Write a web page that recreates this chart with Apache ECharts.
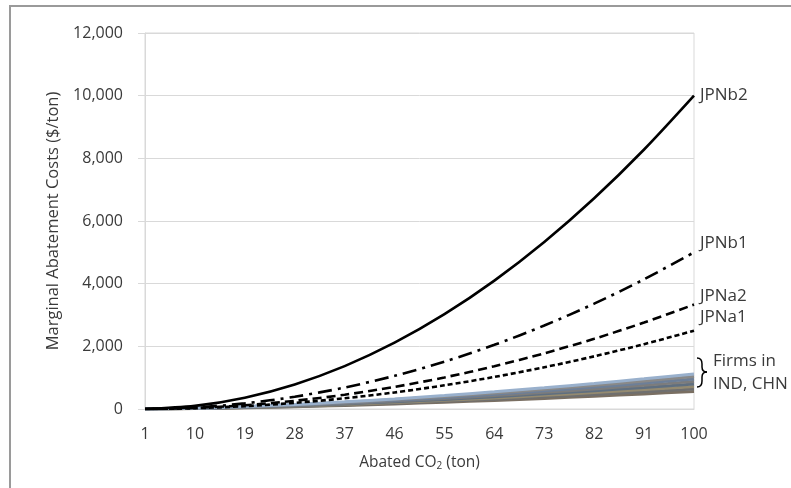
<!DOCTYPE html>
<html>
<head>
<meta charset="utf-8">
<title>Marginal Abatement Costs</title>
<script src="https://cdn.jsdelivr.net/npm/echarts@6/dist/echarts.min.js"></script>
<style>
  html, body { margin: 0; padding: 0; background: #fff; }
  #chart { width: 791px; height: 488px; }
</style>
</head>
<body>
<div id="chart"></div>
<script>
var tons = [1, 10, 19, 28, 37, 46, 55, 64, 73, 82, 91, 100];

// Japanese firms
var jpnB2 = [0, 100, 361, 784, 1369, 2116, 3025, 4096, 5329, 6724, 8281, 10000];
var jpnB1 = [0, 50, 180, 392, 685, 1058, 1512, 2048, 2664, 3362, 4140, 5000];
var jpnA2 = [0, 33, 120, 261, 456, 705, 1008, 1365, 1776, 2241, 2760, 3333];
var jpnA1 = [0, 25, 90, 196, 342, 529, 756, 1024, 1332, 1681, 2070, 2500];

// firms in IND, CHN (grey band)
var firms = [
  [0, 14, 39, 73, 114, 162, 215, 274, 338, 408, 482, 560],
  [0, 16, 45, 83, 130, 185, 246, 313, 387, 466, 550, 640],
  [0, 18, 51, 94, 147, 208, 277, 353, 435, 524, 619, 720],
  [0, 20, 56, 104, 163, 231, 307, 392, 484, 582, 688, 800],
  [0, 22, 62, 115, 179, 254, 338, 431, 532, 641, 757, 880],
  [0, 24, 67, 125, 196, 277, 369, 470, 580, 699, 826, 960],
  [0, 26, 73, 136, 212, 300, 400, 509, 629, 757, 894, 1040],
  [0, 28, 79, 146, 228, 323, 430, 548, 677, 815, 963, 1120]
];
var firmColors = ['#7a6f62', '#6f6f6f', '#948a70', '#5f6f80', '#7c7c7c', '#6d7f98', '#898989', '#99b0cc'];

var font = 'Open Sans';
var textColor = '#3a3a3a';

function pairs(vals) {
  return vals.map(function (v, i) { return [tons[i], v]; });
}

var chart = echarts.init(document.getElementById('chart'));

var series = [];
firms.forEach(function (vals, i) {
  series.push({
    name: 'Firm ' + (i + 1),
    type: 'line',
    data: pairs(vals),
    smooth: 0.3,
    symbol: 'none',
    lineStyle: { color: firmColors[i], width: 3 },
    silent: true
  });
});

function jpn(name, vals, dash, off) {
  return {
    name: name,
    type: 'line',
    data: pairs(vals),
    smooth: 0.3,
    symbol: 'none',
    z: 5,
    lineStyle: { color: '#000', width: 2.6, type: dash },
    endLabel: {
      show: true,
      formatter: '{a}',
      fontFamily: font,
      fontSize: 17,
      color: textColor,
      distance: 6,
      offset: off
    }
  };
}
series.push(jpn('JPNb2', jpnB2, 'solid', [0, -1]));
series.push(jpn('JPNb1', jpnB1, [14, 6, 3, 6], [0, -9]));
series.push(jpn('JPNa2', jpnA2, [9, 5], [0, -8]));
series.push(jpn('JPNa1', jpnA1, [5, 3], [0, -14]));

// curly brace next to the firms band
var braceStyle = { stroke: '#000', lineWidth: 1.5, fill: null };
var brace = [
  { type: 'bezierCurve', shape: { x1: 697, y1: 358, x2: 702, y2: 364, cpx1: 702, cpy1: 358 } },
  { type: 'line', shape: { x1: 702, y1: 364, x2: 702, y2: 367 } },
  { type: 'bezierCurve', shape: { x1: 702, y1: 367, x2: 707, y2: 372, cpx1: 702, cpy1: 372 } },
  { type: 'bezierCurve', shape: { x1: 707, y1: 372, x2: 702, y2: 377, cpx1: 702, cpy1: 372 } },
  { type: 'line', shape: { x1: 702, y1: 377, x2: 702, y2: 381 } },
  { type: 'bezierCurve', shape: { x1: 702, y1: 381, x2: 697, y2: 387, cpx1: 702, cpy1: 387 } }
].map(function (el) { el.style = braceStyle; el.silent = true; return el; });

var option = {
  backgroundColor: '#fff',
  animation: false,
  grid: {
    left: 145, right: 97, top: 33, bottom: 79,
    show: true, borderColor: '#d9d9d9', borderWidth: 1
  },
  xAxis: {
    type: 'value',
    min: 1,
    max: 100,
    name: '{t|Abated CO}{s|2}{t| (ton)}',
    nameLocation: 'middle',
    nameGap: 45,
    nameTextStyle: {
      rich: {
        t: { fontFamily: font, fontSize: 15.5, color: textColor },
        s: { fontFamily: font, fontSize: 10, color: textColor, verticalAlign: 'bottom', padding: [7, 0, 0, 0] }
      }
    },
    axisLine: { show: true, lineStyle: { color: '#d9d9d9' } },
    axisTick: { show: false },
    splitLine: { show: false },
    axisLabel: {
      customValues: tons,
      margin: 17,
      fontFamily: font,
      fontSize: 16,
      color: textColor
    }
  },
  yAxis: {
    type: 'value',
    min: 0,
    max: 12000,
    interval: 2000,
    name: 'Marginal Abatement Costs ($/ton)',
    nameLocation: 'middle',
    nameGap: 80,
    nameTextStyle: { fontFamily: font, fontSize: 16.5, color: textColor },
    axisLine: { show: true, lineStyle: { color: '#d9d9d9' } },
    axisTick: { show: true, length: 7, lineStyle: { color: '#d9d9d9' } },
    splitLine: { lineStyle: { color: '#d9d9d9' } },
    axisLabel: {
      margin: 22,
      fontFamily: font,
      fontSize: 16,
      color: textColor,
      formatter: function (v) { return v.toLocaleString('en-US'); }
    }
  },
  graphic: [
    {
      type: 'polyline',
      shape: { points: [[10, 488], [10, 6], [791, 6]] },
      style: { stroke: '#9a9a9a', lineWidth: 2, fill: null },
      silent: true
    },
    {
      type: 'text',
      left: 713,
      top: 350,
      style: {
        text: 'Firms in\nIND, CHN',
        fontFamily: font,
        fontSize: 17,
        lineHeight: 23,
        fill: textColor
      },
      silent: true
    }
  ].concat(brace),
  series: series
};

chart.setOption(option);
</script>
</body>
</html>
